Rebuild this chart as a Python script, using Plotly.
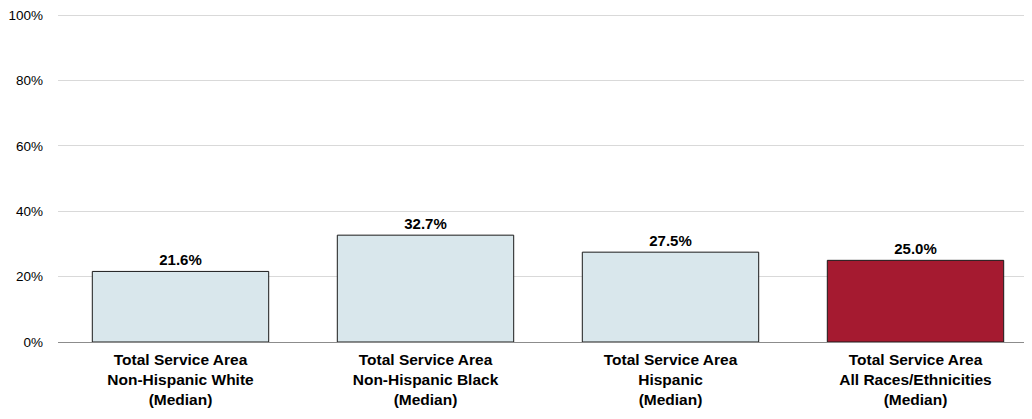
import plotly.graph_objects as go

categories = [
    "Total Service Area<br>Non-Hispanic White<br>(Median)",
    "Total Service Area<br>Non-Hispanic Black<br>(Median)",
    "Total Service Area<br>Hispanic<br>(Median)",
    "Total Service Area<br>All Races/Ethnicities<br>(Median)",
]
values = [21.6, 32.7, 27.5, 25.0]
bar_colors = ["#D9E7EC", "#D9E7EC", "#D9E7EC", "#A51A30"]
tick_vals = [0, 20, 40, 60, 80, 100]
tick_text = ["0%", "20%", "40%", "60%", "80%", "100%"]

FONT = "Liberation Sans, Arial, sans-serif"

fig = go.Figure(go.Bar(
    x=categories,
    y=values,
    marker=dict(color=bar_colors, line=dict(color="#1a1a1a", width=1)),
    width=0.72,
    text=[f"{v:.1f}%" for v in values],
    textposition="outside",
    textfont=dict(family=FONT, size=15, color="#000000", weight="bold"),
    cliponaxis=False,
))

fig.update_layout(
    width=1032, height=419,
    margin=dict(l=50, r=2, t=6, b=85),
    paper_bgcolor="white", plot_bgcolor="white",
    showlegend=False,
    font=dict(family=FONT, color="#000000"),
    xaxis=dict(
        tickfont=dict(family=FONT, size=15.5, color="#000000", weight="bold"),
        showgrid=False, showline=False, ticks="",
        automargin=False, ticklabelstandoff=6,
    ),
    yaxis=dict(
        range=[0, 100.4], tickvals=tick_vals, ticktext=tick_text,
        tickfont=dict(family=FONT, size=13.5, color="#000000"),
        showgrid=True, gridcolor="#D9D9D9", gridwidth=1,
        zeroline=True, zerolinecolor="#8C8C8C", zerolinewidth=1,
        ticks="", ticklabelstandoff=14, automargin=False,
        ticklabeloverflow="allow",
    ),
)

fig.write_html("out.html")
